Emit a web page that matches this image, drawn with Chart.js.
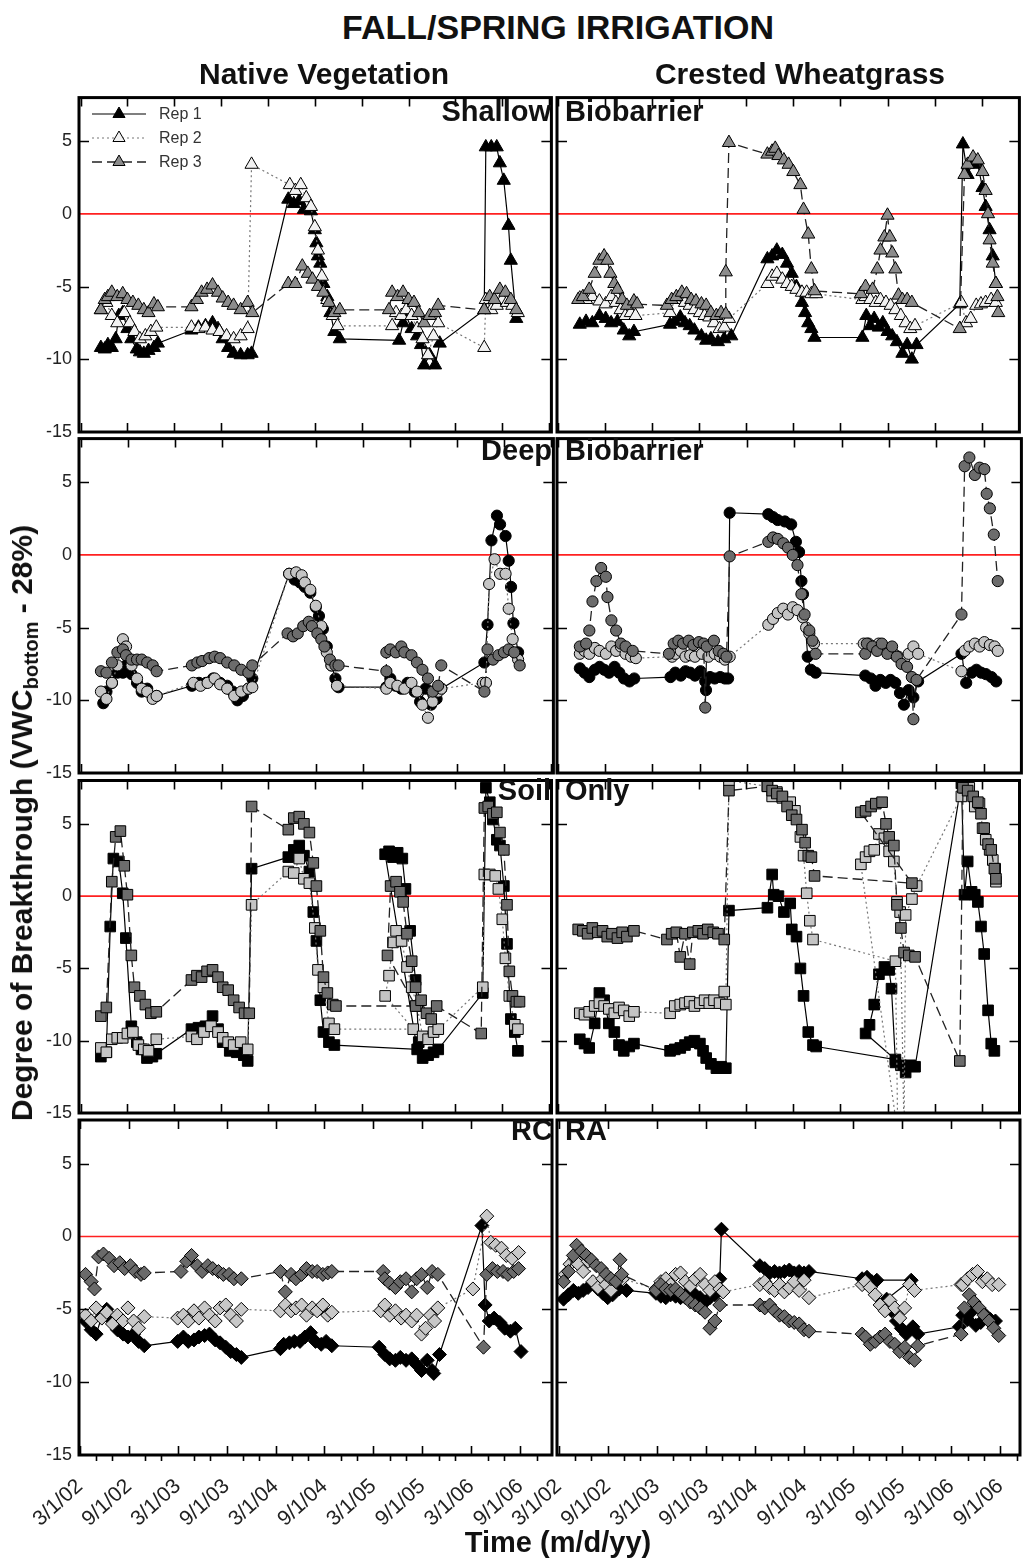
<!DOCTYPE html>
<html><head><meta charset="utf-8">
<script src="https://cdn.jsdelivr.net/npm/chart.js@4.4.1/dist/chart.umd.min.js"></script>
<style>
html,body{margin:0;padding:0;background:#fff;}
#wrap{position:relative;width:1028px;height:1562px;overflow:hidden;font-family:'Liberation Sans',Arial,sans-serif;background:#fff;}
canvas{position:absolute;}
.t{position:absolute;font-weight:bold;color:#111;white-space:nowrap;line-height:1;z-index:5;}
</style></head><body>
<div id="wrap">
  <div class="t" style="left:558px;top:10px;font-size:34px;transform:translateX(-50%);">FALL/SPRING IRRIGATION</div>
  <div class="t" style="left:324px;top:59px;font-size:30px;transform:translateX(-50%);">Native Vegetation</div>
  <div class="t" style="left:800px;top:59px;font-size:30px;transform:translateX(-50%);">Crested Wheatgrass</div>
  <div class="t" style="right:477px;top:97px;font-size:29px;">Shallow</div>
  <div class="t" style="left:565px;top:97px;font-size:29px;">Biobarrier</div>
  <div class="t" style="right:476px;top:436px;font-size:29px;">Deep</div>
  <div class="t" style="left:565px;top:436px;font-size:29px;">Biobarrier</div>
  <div class="t" style="right:477px;top:776px;font-size:29px;">Soil</div>
  <div class="t" style="left:565px;top:776px;font-size:29px;">Only</div>
  <div class="t" style="right:475px;top:1116px;font-size:29px;">RC</div>
  <div class="t" style="left:565px;top:1116px;font-size:29px;">RA</div>
  <div class="t" style="left:24px;top:823px;font-size:30px;transform:translate(-50%,-50%) rotate(-90deg);">Degree of Breakthrough (VWC<sub style="font-size:20px;vertical-align:-6px;">bottom</sub> - 28%)</div>
  <div class="t" style="left:558px;top:1528px;font-size:29px;transform:translateX(-50%);">Time (m/d/yy)</div>
</div>
<script>
// ---------- tick labels ----------
const tickMonths = [0, 6, 12, 18, 24, 30, 36, 42, 48, 54];
const xTickLabels = ['3/1/02','9/1/02','3/1/03','9/1/03','3/1/04','9/1/04','3/1/05','9/1/05','3/1/06','9/1/06'];
const yTickValues = [-15, -10, -5, 0, 5];
const repNames = ['Rep 1', 'Rep 2', 'Rep 3'];
const panelTitles = ['Shallow Biobarrier', 'Deep Biobarrier', 'Soil Only', 'RCRA'];

// ---------- data: [months since 3/1/02, VWC_bottom - 28%] ----------
// Shallow Biobarrier - Native Vegetation
const sbNV1 = [[2.6,-9.2],[3.1,-9.3],[3.5,-9.0],[4.0,-9.2],[4.5,-8.6],[4.9,-7.0],[5.4,-6.8],[6.0,-7.9],[6.5,-8.6],[7.2,-9.3],[7.6,-9.5],[8.1,-9.6],[8.7,-9.4],[9.4,-9.2],[9.9,-8.9],[14.2,-8.0],[15.1,-7.8],[16.0,-7.7],[16.9,-7.5],[17.6,-7.9],[18.2,-8.6],[18.9,-9.2],[19.6,-9.6],[20.5,-9.7],[21.4,-9.7],[21.9,-9.6],[26.6,1.0],[27.3,0.7],[28.0,0.9],[28.6,0.3],[29.5,0.2],[30.0,-1.1],[30.2,-2.0],[30.4,-2.9],[30.7,-3.4],[31.1,-4.8],[31.6,-5.7],[32.0,-6.8],[32.5,-8.1],[33.2,-8.6],[40.8,-8.7],[41.3,-7.5],[41.7,-7.0],[42.4,-7.9],[43.1,-8.4],[43.6,-9.0],[44.0,-10.4],[44.7,-9.7],[45.4,-10.4],[46.0,-8.9],[51.7,-6.6],[51.9,4.6],[52.6,4.6],[53.3,4.6],[53.7,3.5],[54.2,2.3],[54.8,-0.8],[55.1,-3.2],[55.8,-7.2]];
const sbNV2 = [[2.6,-6.6],[3.3,-6.1],[4.0,-7.0],[4.7,-7.5],[5.6,-6.8],[6.3,-7.5],[6.9,-8.1],[7.6,-8.6],[8.3,-8.4],[9.0,-8.1],[9.7,-7.8],[14.2,-7.8],[15.1,-7.9],[16.0,-7.8],[16.9,-8.0],[17.8,-8.1],[18.7,-8.4],[19.6,-8.6],[20.5,-8.4],[21.4,-7.9],[21.9,3.4],[26.8,2.0],[27.5,1.6],[28.2,2.0],[28.9,1.1],[29.5,0.5],[30.0,-0.9],[30.4,-2.5],[30.9,-4.3],[31.6,-5.9],[32.3,-7.0],[32.9,-7.7],[39.9,-7.7],[40.4,-6.8],[41.1,-7.0],[41.7,-6.6],[42.4,-7.0],[43.1,-7.9],[43.8,-8.6],[44.5,-9.7],[45.2,-8.4],[45.8,-7.5],[51.7,-9.2],[51.9,-5.9],[52.6,-6.6],[53.3,-6.3],[54.0,-5.9],[54.6,-6.1],[55.3,-6.3],[56.0,-6.8]];
const sbNV3 = [[2.6,-6.6],[3.1,-5.9],[3.5,-5.7],[4.0,-5.4],[4.7,-5.7],[5.4,-5.5],[6.0,-5.9],[6.7,-6.1],[7.4,-6.3],[8.1,-6.6],[8.7,-6.8],[9.4,-6.2],[9.9,-6.4],[14.2,-6.4],[14.9,-5.9],[15.5,-5.4],[16.2,-5.2],[16.9,-4.9],[17.6,-5.4],[18.2,-5.8],[18.9,-6.1],[19.6,-6.3],[20.5,-6.6],[21.4,-6.1],[22.0,-6.8],[26.6,-4.8],[27.5,-4.8],[28.4,-3.6],[29.1,-4.1],[29.7,-4.5],[30.4,-5.0],[31.1,-5.4],[31.8,-6.1],[32.5,-6.8],[33.2,-6.6],[39.5,-6.6],[39.9,-5.4],[40.6,-5.7],[41.3,-5.4],[42.0,-5.9],[42.7,-6.1],[43.3,-6.8],[44.0,-7.5],[44.7,-7.0],[45.4,-6.8],[45.8,-6.3],[51.7,-6.6],[52.4,-5.7],[53.0,-5.9],[53.7,-5.2],[54.4,-5.4],[55.1,-5.9],[55.8,-6.6]];
// Shallow Biobarrier - Crested Wheatgrass
const sbCW1 = [[2.8,-7.6],[3.6,-7.4],[4.4,-7.5],[5.3,-7.0],[6.1,-7.2],[6.8,-7.5],[7.6,-7.4],[8.4,-8.0],[9.1,-8.4],[9.7,-8.1],[14.3,-7.6],[14.9,-7.4],[15.6,-7.1],[16.2,-7.5],[16.8,-7.7],[17.4,-8.0],[18.3,-8.4],[18.9,-8.7],[19.5,-8.6],[20.4,-8.8],[21.2,-8.6],[22.1,-8.4],[26.7,-3.1],[27.3,-2.9],[27.9,-2.5],[28.6,-2.8],[29.2,-3.4],[29.8,-4.1],[30.4,-5.0],[31.1,-6.1],[31.5,-6.8],[31.9,-7.5],[32.3,-7.9],[32.7,-8.5],[38.8,-8.5],[39.3,-7.0],[39.8,-7.7],[40.3,-7.2],[40.9,-7.8],[41.4,-7.5],[42.0,-8.1],[42.6,-8.4],[43.2,-8.8],[43.9,-9.6],[44.5,-9.0],[45.1,-10.0],[45.7,-9.0],[51.2,-6.2],[51.6,4.8],[52.2,2.7],[52.9,3.6],[53.5,3.4],[54.1,1.8],[54.5,0.5],[55.0,-1.1],[55.4,-2.9],[55.8,-4.8]];
const sbCW2 = [[2.8,-5.8],[3.6,-5.9],[4.4,-5.7],[5.3,-6.0],[6.1,-6.2],[6.8,-5.7],[7.4,-6.1],[8.0,-6.6],[8.6,-7.0],[9.3,-6.8],[9.9,-7.0],[14.3,-6.8],[14.9,-5.9],[15.6,-5.7],[16.2,-6.1],[16.8,-6.3],[17.4,-6.6],[18.1,-6.8],[18.7,-7.0],[19.3,-7.1],[19.9,-7.5],[20.6,-7.9],[21.2,-7.8],[21.8,-7.2],[26.7,-4.8],[27.3,-4.3],[27.9,-4.1],[28.6,-4.5],[29.2,-4.8],[29.8,-5.0],[30.4,-5.2],[31.1,-5.4],[31.7,-5.4],[32.3,-5.5],[32.9,-5.5],[38.8,-5.9],[39.2,-5.7],[39.8,-5.9],[40.5,-6.1],[41.1,-5.9],[41.8,-6.1],[42.4,-6.3],[43.0,-6.6],[43.7,-7.0],[44.3,-7.5],[44.9,-7.9],[45.5,-7.7],[51.4,-6.1],[52.0,-7.5],[52.6,-7.2],[53.3,-6.3],[53.9,-6.2],[54.5,-6.1],[55.2,-5.9],[55.8,-6.1]];
const sbCW3 = [[2.6,-5.9],[3.2,-5.7],[4.0,-5.2],[4.7,-4.1],[5.3,-3.2],[5.9,-2.9],[6.3,-3.2],[6.7,-4.1],[7.2,-4.8],[7.6,-5.2],[8.2,-5.9],[8.8,-6.3],[9.7,-6.0],[10.1,-6.2],[13.9,-6.3],[14.5,-5.9],[15.1,-5.7],[15.8,-5.4],[16.4,-5.5],[17.0,-5.9],[17.6,-6.0],[18.3,-6.2],[18.9,-6.3],[19.5,-6.8],[20.2,-7.0],[20.8,-6.8],[21.4,-6.9],[21.4,-4.0],[21.8,4.9],[26.7,4.1],[27.3,4.3],[27.7,4.5],[28.1,4.0],[28.8,3.7],[29.4,3.4],[30.0,2.9],[30.9,2.0],[31.3,0.3],[31.9,-1.4],[32.3,-3.8],[32.7,-5.3],[38.6,-5.5],[39.2,-5.0],[40.1,-5.2],[40.7,-3.8],[41.1,-2.5],[41.6,-1.6],[42.0,-0.1],[42.3,-1.6],[42.6,-2.7],[43.0,-3.8],[43.4,-5.6],[43.9,-5.9],[44.5,-5.9],[45.1,-6.1],[51.2,-7.9],[51.8,2.7],[52.2,3.4],[52.9,3.9],[53.5,3.7],[54.1,2.9],[54.5,1.6],[54.8,0.0],[55.0,-1.8],[55.4,-3.4],[55.8,-4.8],[56.0,-5.7],[56.1,-6.8]];
// Deep Biobarrier - Native Vegetation
const dbNV1 = [[2.9,-10.2],[3.3,-9.4],[4.0,-8.8],[4.7,-8.1],[5.4,-8.1],[5.8,-7.6],[6.5,-8.2],[7.2,-8.8],[7.8,-9.4],[8.5,-9.2],[9.2,-9.8],[9.7,-9.7],[14.2,-9.0],[15.1,-8.8],[16.0,-8.8],[16.9,-8.5],[17.8,-8.8],[18.7,-9.0],[19.4,-9.4],[20.0,-10.0],[20.7,-9.7],[21.4,-9.2],[21.9,-8.5],[26.6,-1.3],[27.3,-1.7],[28.0,-1.9],[28.6,-2.2],[29.3,-2.6],[30.0,-3.6],[30.4,-4.2],[30.9,-5.1],[31.4,-6.3],[32.0,-7.6],[32.5,-8.5],[32.9,-9.1],[39.0,-9.1],[39.5,-8.5],[40.2,-9.0],[40.9,-9.2],[41.7,-8.8],[42.6,-9.4],[43.3,-10.1],[44.0,-9.2],[44.7,-10.3],[45.4,-9.9],[46.0,-9.2],[51.5,-7.4],[51.9,-4.8],[52.4,1.0],[53.1,2.7],[53.5,2.1],[54.2,1.3],[54.6,-0.4],[54.9,-2.2],[55.2,-4.7],[55.8,-6.7]];
const dbNV2 = [[2.6,-9.4],[3.3,-9.9],[4.0,-8.8],[4.7,-7.6],[5.4,-5.8],[5.8,-6.3],[6.5,-7.6],[7.2,-8.5],[7.8,-9.2],[8.5,-9.4],[9.2,-9.9],[9.7,-9.7],[14.4,-8.8],[15.3,-9.0],[16.2,-8.8],[17.1,-8.5],[17.8,-8.9],[18.7,-9.2],[19.6,-9.7],[20.5,-9.4],[21.4,-9.2],[21.9,-9.1],[26.6,-1.3],[27.5,-1.2],[28.2,-1.4],[28.6,-1.9],[29.3,-2.4],[30.0,-3.5],[30.7,-4.9],[31.4,-6.7],[32.0,-7.6],[32.7,-9.0],[39.0,-9.2],[39.5,-8.8],[40.4,-9.0],[41.3,-9.2],[42.2,-8.8],[42.9,-9.4],[43.6,-10.3],[44.3,-11.2],[44.9,-10.1],[45.6,-9.4],[46.0,-9.2],[51.3,-8.8],[51.7,-8.8],[52.1,-2.0],[52.8,-0.3],[53.5,-1.3],[54.2,-1.3],[54.6,-3.7],[55.1,-5.8],[55.8,-7.2]];
const dbNV3 = [[2.6,-8.0],[3.3,-8.1],[4.0,-7.4],[4.7,-6.7],[5.4,-6.5],[5.8,-6.9],[6.5,-7.2],[7.2,-7.2],[7.8,-7.2],[8.5,-7.4],[9.2,-7.6],[9.7,-8.0],[14.2,-7.6],[14.9,-7.4],[15.5,-7.3],[16.4,-7.1],[17.1,-7.0],[17.8,-7.1],[18.7,-7.4],[19.6,-7.6],[20.5,-7.9],[21.4,-8.1],[21.9,-7.6],[26.4,-5.4],[27.1,-5.6],[27.7,-5.4],[28.4,-4.9],[29.1,-4.6],[29.5,-4.9],[30.2,-5.4],[30.7,-5.8],[31.1,-6.3],[31.8,-7.2],[32.5,-7.6],[32.9,-7.6],[39.0,-8.0],[39.0,-6.7],[39.5,-6.5],[40.2,-6.7],[40.9,-6.3],[41.3,-6.7],[42.2,-6.9],[42.9,-7.4],[43.6,-7.9],[44.3,-8.5],[44.9,-9.4],[45.6,-9.0],[46.0,-7.6],[51.5,-9.4],[51.9,-6.5],[52.6,-7.2],[53.3,-6.9],[54.0,-6.7],[54.6,-6.5],[55.3,-6.7],[56.0,-7.6]];
// Deep Biobarrier - Crested Wheatgrass
const dbCW1 = [[2.8,-7.8],[3.4,-8.1],[4.0,-8.4],[4.7,-7.9],[5.3,-7.7],[5.9,-7.9],[6.5,-8.1],[7.2,-7.7],[7.8,-8.1],[8.4,-8.5],[9.1,-8.7],[9.7,-8.5],[14.3,-8.4],[14.9,-8.1],[15.6,-8.3],[16.2,-8.0],[16.8,-8.1],[17.4,-8.3],[18.1,-8.0],[18.7,-8.7],[18.8,-9.3],[19.3,-8.4],[19.9,-8.5],[20.6,-8.4],[21.2,-8.5],[21.6,-8.5],[21.8,2.9],[26.7,2.8],[27.3,2.6],[27.9,2.4],[28.8,2.3],[29.6,2.1],[30.2,0.9],[30.6,0.2],[30.9,-1.8],[31.1,-2.7],[31.7,-7.0],[32.1,-7.9],[32.7,-8.1],[39.0,-8.3],[39.7,-8.5],[40.3,-9.0],[40.9,-8.6],[41.6,-8.8],[42.2,-8.6],[42.8,-8.8],[43.4,-9.5],[43.9,-10.3],[44.5,-9.3],[45.1,-9.8],[45.7,-8.7],[51.2,-6.8],[51.8,-8.8],[52.5,-8.1],[53.1,-7.9],[53.7,-8.1],[54.3,-8.2],[55.0,-8.4],[55.6,-8.7]];
const dbCW2 = [[2.8,-6.8],[3.4,-6.6],[4.0,-6.8],[4.7,-6.4],[5.3,-6.6],[6.1,-6.8],[6.8,-6.3],[7.4,-6.6],[8.0,-6.3],[8.6,-6.8],[9.3,-7.0],[9.9,-7.1],[14.5,-7.0],[14.9,-6.8],[15.6,-6.6],[16.2,-7.0],[16.8,-6.9],[17.4,-7.0],[18.3,-6.8],[19.1,-7.0],[19.9,-6.8],[20.6,-7.0],[21.2,-7.2],[21.8,-7.0],[26.7,-4.8],[27.3,-4.4],[27.9,-4.0],[28.6,-3.7],[29.2,-4.1],[29.8,-3.6],[30.4,-3.8],[31.1,-4.3],[31.5,-5.0],[31.9,-5.4],[32.5,-6.1],[38.8,-6.1],[39.4,-6.1],[40.1,-6.3],[40.7,-6.1],[41.3,-6.3],[41.9,-6.6],[42.6,-6.8],[43.2,-7.0],[43.9,-7.2],[44.5,-6.8],[45.1,-6.3],[45.7,-6.8],[51.2,-8.0],[51.6,-6.6],[52.2,-6.3],[52.9,-6.1],[53.5,-6.3],[54.1,-6.0],[54.8,-6.2],[55.4,-6.3],[55.8,-6.6]];
const dbCW3 = [[2.8,-6.3],[3.6,-6.1],[4.0,-5.2],[4.4,-3.2],[4.9,-1.8],[5.5,-0.9],[6.1,-1.5],[6.3,-2.9],[6.8,-4.5],[7.4,-5.2],[8.0,-6.1],[8.6,-6.3],[9.5,-6.6],[14.1,-6.8],[14.7,-6.1],[15.3,-5.9],[15.9,-6.1],[16.6,-5.9],[17.2,-6.2],[17.9,-6.0],[18.5,-6.1],[18.7,-10.5],[18.9,-6.3],[19.8,-5.9],[20.4,-6.6],[21.0,-6.8],[21.4,-7.0],[21.8,-0.1],[26.7,0.9],[27.3,1.2],[27.9,1.1],[28.6,0.8],[29.2,0.5],[29.8,0.0],[30.4,-0.7],[30.9,-2.7],[31.3,-4.1],[31.9,-5.2],[32.3,-5.9],[32.7,-6.8],[39.0,-6.8],[39.2,-6.1],[39.9,-6.3],[40.5,-6.6],[41.1,-6.1],[41.8,-6.8],[42.4,-6.3],[43.0,-7.0],[43.6,-7.5],[44.3,-7.7],[44.9,-8.4],[45.1,-11.3],[45.5,-8.6],[51.2,-4.1],[51.6,6.1],[52.2,6.7],[52.9,5.5],[53.5,6.0],[54.1,5.9],[54.4,4.2],[54.8,3.2],[55.3,1.4],[55.8,-1.8]];
// Soil Only - Native Vegetation
const soNV1 = [[2.6,-11.1],[3.3,-10.8],[3.8,-2.1],[4.2,2.6],[4.9,2.4],[5.4,0.2],[5.8,-2.9],[6.5,-9.0],[7.2,-10.1],[7.8,-10.6],[8.5,-11.2],[9.2,-11.1],[9.7,-10.9],[14.2,-9.2],[15.1,-9.1],[16.0,-9.0],[16.9,-8.3],[17.6,-9.2],[18.2,-10.1],[19.1,-10.7],[20.0,-10.8],[20.9,-11.0],[21.4,-11.4],[21.9,1.9],[26.6,2.7],[27.3,3.2],[28.0,3.5],[28.6,2.8],[29.3,1.7],[29.8,-1.1],[30.2,-3.1],[30.7,-7.2],[31.1,-9.4],[31.8,-10.1],[32.5,-10.3],[43.1,-10.6],[39.0,2.9],[39.5,3.1],[40.0,2.7],[40.6,3.0],[41.2,2.6],[41.6,0.5],[42.2,-2.4],[42.9,-5.8],[43.3,-10.1],[43.8,-11.2],[44.5,-11.0],[45.2,-10.8],[45.8,-10.6],[51.5,-6.7],[51.9,7.5],[52.4,6.5],[52.8,5.3],[53.3,3.9],[53.7,3.5],[54.2,0.7],[54.6,-3.3],[55.1,-8.5],[55.6,-9.4],[56.0,-10.7]];
const soNV2 = [[2.6,-10.5],[3.3,-10.8],[4.0,-9.9],[4.7,-9.8],[5.4,-9.8],[6.0,-9.5],[6.7,-9.4],[7.4,-10.3],[8.1,-10.6],[8.7,-10.7],[9.7,-9.9],[14.2,-9.7],[14.9,-9.9],[15.8,-9.4],[16.7,-9.0],[17.6,-9.4],[18.2,-9.8],[18.9,-10.1],[19.6,-10.3],[20.5,-10.1],[21.4,-10.6],[21.9,-0.6],[26.6,1.7],[27.3,1.6],[28.0,2.6],[28.6,1.2],[29.3,0.9],[30.0,-2.2],[30.4,-5.1],[31.1,-6.3],[31.8,-8.8],[32.5,-9.2],[42.6,-9.2],[39.0,-6.9],[39.5,-5.5],[40.0,-3.2],[40.4,-2.4],[41.1,-3.1],[41.8,-4.9],[42.4,-6.3],[43.1,-7.6],[43.8,-9.7],[44.5,-9.9],[45.2,-9.4],[45.8,-9.2],[51.5,-6.3],[51.7,1.5],[52.4,1.5],[53.1,1.4],[53.5,0.5],[54.0,-1.6],[54.4,-4.3],[54.9,-6.9],[55.6,-8.9],[56.0,-9.2]];
const soNV3 = [[2.6,-8.3],[3.3,-7.7],[4.0,1.0],[4.5,4.1],[5.1,4.5],[5.6,2.1],[6.0,0.1],[6.5,-4.1],[6.9,-6.3],[7.6,-6.9],[8.3,-7.5],[9.0,-8.1],[9.7,-8.0],[14.2,-5.8],[14.9,-5.5],[15.5,-5.6],[16.2,-5.2],[16.9,-5.1],[17.6,-5.6],[18.2,-6.3],[18.9,-6.5],[19.6,-7.2],[20.3,-7.7],[21.0,-8.1],[21.6,-8.1],[21.9,6.2],[26.6,4.6],[27.3,5.4],[28.0,5.5],[28.6,5.0],[29.3,4.4],[29.8,2.3],[30.2,0.7],[30.7,-2.4],[31.1,-5.6],[31.6,-6.7],[32.3,-7.5],[32.7,-7.6],[42.9,-7.6],[39.3,-4.1],[39.7,0.7],[40.4,1.0],[40.9,0.3],[41.3,-0.4],[41.8,-2.6],[42.4,-4.5],[42.9,-6.3],[43.6,-7.2],[44.3,-8.1],[44.9,-8.5],[45.6,-7.6],[51.3,-9.5],[51.7,6.1],[52.2,6.2],[52.8,5.7],[53.3,5.8],[53.7,4.4],[54.2,3.2],[54.6,-0.6],[54.9,-5.2],[55.3,-6.9],[55.8,-7.3],[56.2,-7.3]];
// Soil Only - Crested Wheatgrass
const soCW1 = [[2.8,-9.9],[3.4,-10.2],[4.0,-10.5],[4.7,-8.8],[5.3,-6.7],[5.9,-7.2],[6.5,-8.8],[7.2,-9.4],[7.8,-10.3],[8.4,-10.7],[9.1,-10.4],[9.7,-10.2],[14.3,-10.7],[14.9,-10.6],[15.6,-10.5],[16.2,-10.3],[16.8,-10.1],[17.4,-10.0],[18.1,-10.2],[18.5,-10.7],[18.9,-11.2],[19.5,-11.6],[20.2,-11.9],[20.8,-11.8],[21.4,-11.9],[21.8,-1.0],[26.7,-0.8],[27.3,1.5],[27.5,0.1],[28.1,0.0],[28.8,-1.1],[29.6,-0.5],[29.8,-2.3],[30.4,-2.8],[30.9,-5.0],[31.3,-6.9],[31.9,-9.4],[32.5,-10.3],[32.9,-10.4],[43.0,-11.3],[39.2,-9.5],[39.7,-8.9],[40.3,-7.5],[40.9,-5.4],[41.6,-4.9],[42.2,-5.1],[42.5,-6.4],[43.0,-11.5],[43.7,-11.7],[44.3,-12.2],[44.9,-11.7],[45.5,-11.8],[51.4,7.8],[51.8,0.1],[52.2,2.4],[52.7,0.3],[53.1,0.1],[53.5,-0.4],[53.9,-2.1],[54.3,-4.0],[54.8,-7.9],[55.2,-10.2],[55.6,-10.7]];
const soCW2 = [[2.8,-8.1],[3.4,-8.2],[4.0,-8.0],[4.7,-7.6],[5.3,-7.4],[5.9,-7.6],[6.5,-7.8],[7.2,-8.1],[7.8,-7.7],[8.4,-7.9],[9.1,-8.3],[9.7,-8.0],[14.3,-8.1],[14.9,-7.6],[15.6,-7.5],[16.2,-7.4],[16.8,-7.3],[17.4,-7.6],[18.1,-7.4],[18.7,-7.2],[19.3,-7.4],[19.9,-7.2],[20.6,-7.4],[21.2,-6.6],[21.4,-7.5],[21.8,8.0],[26.7,7.6],[27.3,6.9],[27.9,7.2],[28.6,6.8],[29.6,6.5],[30.2,5.9],[30.9,4.1],[31.3,2.8],[31.7,0.2],[32.1,-1.7],[32.5,-3.0],[43.0,-4.5],[43.3,-16.5],[38.6,2.2],[39.2,2.7],[39.7,3.1],[40.3,3.2],[40.9,4.3],[41.6,4.0],[42.2,3.1],[42.8,2.4],[43.2,-0.4],[43.6,-1.1],[44.1,-16.5],[44.3,-1.3],[45.1,-0.2],[45.7,0.7],[51.4,6.9],[51.8,7.5],[52.4,7.5],[53.1,6.2],[53.7,6.4],[54.1,4.7],[54.5,3.9],[55.0,3.2],[55.4,2.5],[55.7,1.9],[55.8,1.0]];
const soCW3 = [[2.6,-2.3],[3.2,-2.4],[3.8,-2.6],[4.4,-2.2],[5.1,-2.5],[5.7,-2.4],[6.3,-2.8],[6.9,-2.6],[7.6,-2.9],[8.2,-2.5],[8.8,-2.8],[9.7,-2.4],[13.9,-3.0],[14.5,-2.6],[15.1,-2.5],[15.6,-4.2],[16.2,-2.6],[16.8,-4.7],[17.2,-2.5],[17.9,-2.4],[18.5,-2.6],[19.1,-2.3],[19.8,-2.5],[20.4,-2.6],[21.2,-3.0],[21.8,7.3],[26.7,7.6],[27.3,7.3],[27.9,7.1],[28.6,6.9],[29.2,6.2],[29.8,5.6],[30.4,5.3],[31.1,4.6],[31.5,3.7],[31.9,2.8],[32.3,2.7],[32.7,1.4],[45.1,0.9],[38.6,5.8],[39.2,5.9],[39.9,6.2],[40.5,6.4],[41.3,6.5],[41.8,5.0],[42.2,4.1],[42.8,3.5],[43.2,-0.6],[43.7,-2.2],[44.1,-3.9],[44.7,-4.1],[45.5,-4.2],[51.2,-11.4],[51.6,7.5],[52.2,7.3],[52.9,6.9],[53.5,6.5],[53.9,5.7],[54.3,4.7],[54.8,3.6],[55.2,3.2],[55.6,1.9],[55.8,1.2]];
// RCRA - Native Vegetation
const rcNV1 = [[0.7,-5.8],[1.4,-6.4],[2.0,-6.7],[2.7,-5.5],[3.3,-5.0],[4.0,-5.8],[4.6,-6.4],[5.3,-6.7],[5.9,-6.9],[6.6,-6.7],[7.2,-7.2],[7.9,-7.5],[12.0,-7.2],[12.7,-6.9],[13.3,-7.2],[14.0,-7.1],[14.6,-6.9],[15.3,-6.8],[15.9,-6.7],[16.6,-7.1],[17.2,-7.3],[17.9,-7.6],[18.5,-7.9],[19.2,-8.1],[19.8,-8.3],[24.6,-7.7],[25.0,-7.4],[25.7,-7.3],[26.3,-7.2],[27.0,-7.2],[27.6,-6.9],[28.3,-6.6],[28.9,-7.2],[29.6,-7.4],[30.2,-7.2],[30.9,-7.5],[36.7,-7.6],[37.4,-8.1],[38.0,-8.4],[38.7,-8.5],[39.3,-8.3],[40.0,-8.5],[40.7,-8.4],[41.3,-8.8],[41.9,-9.2],[42.6,-8.5],[43.2,-9.2],[43.4,-9.4],[44.1,-8.1],[49.3,0.75],[49.7,-4.7],[50.2,-5.8],[50.8,-5.6],[51.5,-5.9],[52.1,-6.3],[52.8,-6.5],[53.4,-6.3],[54.1,-7.9]];
const rcNV2 = [[0.7,-5.4],[1.4,-5.8],[2.0,-4.9],[2.7,-5.6],[3.3,-5.2],[4.0,-6.0],[4.6,-5.4],[5.3,-5.8],[5.9,-4.9],[6.6,-5.8],[7.2,-6.3],[7.9,-5.5],[12.0,-5.6],[12.7,-5.4],[13.3,-5.8],[14.0,-5.1],[14.6,-5.6],[15.3,-4.9],[15.9,-5.4],[16.6,-5.8],[17.2,-4.9],[17.9,-4.7],[18.5,-5.4],[19.2,-5.8],[19.8,-5.0],[24.6,-5.1],[25.2,-4.7],[25.9,-5.1],[26.5,-4.9],[27.2,-4.7],[27.8,-5.4],[28.5,-4.9],[29.1,-5.1],[29.8,-4.7],[30.4,-5.4],[30.9,-5.2],[36.9,-5.1],[37.4,-4.7],[38.0,-5.4],[38.7,-5.1],[39.4,-5.6],[40.0,-5.4],[40.7,-5.8],[41.3,-5.4],[41.9,-6.7],[42.4,-6.3],[43.0,-5.4],[43.5,-5.8],[43.9,-4.9],[48.2,-3.6],[49.9,1.4],[50.4,-0.4],[51.0,-0.6],[51.7,-0.8],[52.3,-1.3],[53.0,-1.5],[53.8,-1.1]];
const rcNV3 = [[0.7,-2.6],[1.4,-3.1],[1.8,-3.6],[2.3,-1.4],[2.9,-1.2],[3.6,-1.5],[4.2,-2.0],[4.9,-1.8],[5.5,-2.2],[6.2,-2.0],[6.8,-2.4],[7.5,-2.6],[7.9,-2.5],[12.4,-2.4],[13.1,-1.7],[13.7,-1.3],[14.4,-2.0],[15.0,-2.4],[15.7,-2.0],[16.3,-2.2],[17.0,-2.4],[17.6,-2.6],[18.3,-2.6],[18.9,-2.9],[19.8,-2.9],[24.6,-2.4],[25.2,-3.8],[25.9,-2.6],[26.5,-2.9],[27.2,-2.6],[27.8,-2.2],[28.5,-2.4],[29.1,-2.4],[29.8,-2.6],[30.4,-2.5],[30.9,-2.4],[37.2,-2.4],[37.4,-2.9],[38.0,-3.2],[38.7,-3.5],[39.3,-3.1],[40.0,-2.9],[40.7,-3.8],[41.3,-2.9],[41.9,-2.6],[42.6,-3.5],[43.2,-2.4],[43.9,-2.6],[49.5,-7.6],[49.9,-2.6],[50.6,-2.2],[51.2,-2.4],[51.9,-2.4],[52.5,-2.6],[53.2,-2.4],[53.8,-2.2]];
// RCRA - Crested Wheatgrass
const rcCW1 = [[0.6,-4.3],[1.2,-4.0],[1.8,-3.7],[2.4,-3.9],[3.0,-3.7],[3.6,-3.5],[4.2,-3.2],[4.8,-3.6],[5.4,-3.9],[6.0,-4.2],[6.6,-4.0],[7.4,-3.6],[8.3,-3.7],[11.9,-3.9],[12.5,-4.1],[13.1,-4.2],[13.7,-4.0],[14.3,-4.1],[14.9,-4.2],[15.5,-4.0],[16.1,-3.8],[16.7,-4.0],[17.3,-4.2],[17.9,-4.5],[18.5,-4.2],[19.1,-4.0],[19.7,-2.9],[19.9,0.5],[24.6,-2.0],[25.2,-2.2],[25.8,-2.5],[26.4,-2.4],[27.0,-2.5],[27.6,-2.4],[28.2,-2.3],[28.8,-2.5],[29.4,-2.4],[30.0,-2.5],[30.6,-2.4],[37.1,-2.9],[37.7,-2.8],[38.3,-3.1],[38.9,-3.0],[43.1,-3.0],[40.1,-4.3],[40.7,-5.1],[41.3,-5.8],[41.9,-6.3],[42.5,-6.7],[43.3,-6.2],[43.9,-6.7],[49.0,-6.2],[49.4,-5.4],[50.0,-5.7],[50.4,-5.2],[51.0,-6.1],[51.6,-5.9],[52.2,-5.4],[52.8,-5.7],[53.4,-5.8]];
const rcCW2 = [[0.8,-2.6],[1.4,-1.9],[2.0,-1.5],[2.4,-1.9],[3.0,-2.4],[3.6,-1.7],[4.2,-3.1],[4.8,-3.5],[5.4,-2.9],[5.8,-3.3],[6.4,-3.7],[7.0,-3.1],[7.8,-2.9],[11.9,-3.6],[12.5,-3.1],[13.1,-2.9],[13.7,-3.3],[14.3,-2.6],[14.9,-2.5],[15.5,-3.1],[16.1,-3.4],[16.7,-2.9],[17.3,-2.6],[17.9,-3.3],[18.5,-3.7],[19.1,-3.1],[19.7,-3.6],[20.1,-3.8],[24.6,-3.3],[25.2,-3.1],[25.8,-3.5],[26.4,-3.7],[27.0,-3.3],[27.6,-3.8],[28.2,-3.5],[28.8,-3.1],[29.4,-3.7],[30.0,-3.0],[30.6,-4.2],[37.1,-3.3],[37.5,-3.1],[38.1,-3.5],[38.7,-4.0],[39.3,-4.7],[39.9,-5.1],[40.5,-4.4],[41.1,-4.9],[41.7,-5.6],[42.3,-4.9],[42.9,-3.3],[43.5,-3.7],[49.2,-3.3],[49.4,-3.3],[50.0,-2.9],[50.6,-2.6],[51.2,-2.4],[51.8,-3.1],[52.4,-2.9],[53.0,-3.3],[53.8,-3.3]];
const rcCW3 = [[0.6,-3.1],[1.2,-2.4],[1.8,-1.3],[2.2,-0.6],[2.8,-1.0],[3.4,-1.3],[4.0,-1.6],[4.6,-2.0],[5.2,-2.2],[5.8,-2.6],[6.4,-2.9],[7.0,-3.1],[7.5,-1.6],[7.7,-2.6],[11.9,-3.7],[12.5,-3.3],[13.1,-3.6],[13.7,-3.7],[14.3,-3.6],[14.9,-3.9],[15.5,-4.2],[16.1,-4.5],[16.7,-4.7],[17.3,-4.9],[17.9,-5.2],[18.5,-6.3],[19.1,-5.8],[19.7,-4.7],[24.6,-4.7],[25.2,-4.9],[25.8,-4.7],[26.4,-5.1],[27.0,-5.4],[27.6,-5.5],[28.2,-5.8],[28.8,-5.9],[29.4,-6.0],[30.0,-6.4],[30.6,-6.5],[37.1,-6.7],[37.5,-6.9],[38.1,-7.4],[38.7,-7.2],[39.3,-6.9],[39.9,-6.7],[40.5,-7.2],[41.1,-7.4],[41.7,-7.9],[42.3,-7.6],[42.9,-8.3],[43.5,-8.5],[43.9,-7.5],[49.2,-6.7],[49.6,-4.9],[50.2,-4.0],[50.8,-4.5],[51.4,-4.9],[52.0,-5.4],[52.6,-5.8],[53.2,-6.3],[53.8,-6.8]];

// ---------- layout ----------
const colL = [79, 557], colR = [557, 1025];
const rowT = [93, 436, 776, 1116], rowB = [432, 773, 1113, 1455];
const xRange = { upper: [[-0.2, 60.3], [-0.1, 58.8]], lower: [[-0.1, 57.9], [-0.2, 56.4]] };
const markerStyle = ['triangle', 'circle', 'rect', 'rectRot'];
const markerRadius = [7.6, 5.6, 7.5, 7];
const fillRep2 = ['#f2f2f2', '#c4c4c4', '#c4c4c4', '#c8c8c8'];
const fillRep3 = ['#8c8c8c', '#6c6c6c', '#6c6c6c', '#6a6a6a'];

const panels = [
  {row:0, col:0, reps:[sbNV1, sbNV2, sbNV3]}, {row:0, col:1, reps:[sbCW1, sbCW2, sbCW3]},
  {row:1, col:0, reps:[dbNV1, dbNV2, dbNV3]}, {row:1, col:1, reps:[dbCW1, dbCW2, dbCW3]},
  {row:2, col:0, reps:[soNV1, soNV2, soNV3]}, {row:2, col:1, reps:[soCW1, soCW2, soCW3]},
  {row:3, col:0, reps:[rcNV1, rcNV2, rcNV3]}, {row:3, col:1, reps:[rcCW1, rcCW2, rcCW3]}
];

function repStyle(row, r) {
  const base = {pointStyle: markerStyle[row], pointRadius: markerRadius[row], pointBorderColor: '#000', pointBorderWidth: 1, borderWidth: 1.2, tension: 0};
  if (r === 0) return Object.assign(base, {borderColor: '#000', pointBackgroundColor: '#000', borderDash: []});
  if (r === 1) return Object.assign(base, {borderColor: '#777', pointBackgroundColor: fillRep2[row], borderDash: [2, 3]});
  return Object.assign(base, {borderColor: '#222', pointBackgroundColor: fillRep3[row], borderDash: [10, 5], borderWidth: 1.3});
}

const decoPlugin = {
  id: 'deco',
  beforeDatasetsDraw(chart) {
    const {ctx, chartArea: a, scales: {y}} = chart;
    const y0 = y.getPixelForValue(0);
    ctx.save();
    ctx.strokeStyle = '#ff2020'; ctx.lineWidth = 1.6;
    ctx.beginPath(); ctx.moveTo(a.left, y0); ctx.lineTo(a.right, y0); ctx.stroke();
    ctx.restore();
  },
  afterDatasetsDraw(chart, args, opts) {
    const {ctx, chartArea: a, scales: {x, y}} = chart;
    ctx.save();
    ctx.strokeStyle = '#000'; ctx.lineWidth = 1.6; ctx.setLineDash([]);
    for (let m = 0; m <= x.max; m += 2) {
      if (m < x.min) continue;
      const px = Math.round(x.getPixelForValue(m)) + 0.5;
      ctx.beginPath();
      if (m % 6 === 0) {
        ctx.moveTo(px, a.top); ctx.lineTo(px, a.top + 9);
        ctx.moveTo(px, a.bottom); ctx.lineTo(px, a.bottom - 9);
      } else if (opts.minor) {
        ctx.moveTo(px, a.bottom); ctx.lineTo(px, a.bottom + 6);
      }
      ctx.stroke();
    }
    for (const v of [-10, -5, 5]) {
      const py = Math.round(y.getPixelForValue(v)) + 0.5;
      ctx.beginPath();
      ctx.moveTo(a.left, py); ctx.lineTo(a.left + 10, py);
      ctx.moveTo(a.right, py); ctx.lineTo(a.right - 10, py);
      ctx.stroke();
    }
    ctx.lineWidth = 3;
    ctx.strokeRect(a.left, a.top, a.right - a.left, a.bottom - a.top);
    if (opts.legend) {
      const ox = chart.canvas.offsetLeft, oy = chart.canvas.offsetTop;
      const ys = [114, 138, 162];
      ctx.font = '16px "Liberation Sans", Arial, sans-serif';
      ctx.textBaseline = 'middle';
      for (let r = 0; r < 3; r++) {
        const st = repStyle(0, r);
        const yy = ys[r] - oy;
        ctx.strokeStyle = st.borderColor; ctx.lineWidth = st.borderWidth; ctx.setLineDash(st.borderDash);
        ctx.beginPath(); ctx.moveTo(92 - ox, yy); ctx.lineTo(146 - ox, yy); ctx.stroke();
        ctx.setLineDash([]);
        ctx.fillStyle = st.pointBackgroundColor; ctx.strokeStyle = '#000'; ctx.lineWidth = 1;
        Chart.helpers.drawPoint(ctx, {pointStyle: 'triangle', radius: 7, rotation: 0, borderWidth: 1}, 119 - ox, yy);
        ctx.fillStyle = '#333';
        ctx.fillText(repNames[r], 159 - ox, yy + 1);
      }
    }
    ctx.restore();
  }
};

const wrap = document.getElementById('wrap');
panels.forEach((p, i) => {
  const L = colL[p.col], R = colR[p.col], T = rowT[p.row], B = rowB[p.row];
  const ML = p.col === 0 ? 79 : 72, MR = 3, MT = 4;
  const MB = p.row === 3 ? 106 : 14;
  const W = (R - L) + ML + MR, H = (B - T) + MT + MB;
  const cv = document.createElement('canvas');
  cv.width = W; cv.height = H;
  cv.style.left = (L - ML) + 'px'; cv.style.top = (T - MT) + 'px';
  cv.style.width = W + 'px'; cv.style.height = H + 'px';
  wrap.appendChild(cv);
  const rng = p.row === 3 ? xRange.lower[p.col] : xRange.upper[p.col];
  const datasets = p.reps.map((d, r) => Object.assign({label: panelTitles[p.row] + ' ' + repNames[r], data: d, order: 2 - r}, repStyle(p.row, r)));
  new Chart(cv, {
    type: 'line',
    data: {datasets},
    options: {
      responsive: false, animation: false, events: [],
      layout: {padding: {left: 0, right: MR, top: MT, bottom: 0}},
      plugins: {legend: {display: false}, tooltip: {enabled: false},
        deco: {legend: i === 0, minor: p.row === 3}},
      scales: {
        x: {
          type: 'linear', min: rng[0], max: rng[1],
          grid: {display: false, drawTicks: false}, border: {display: false},
          afterBuildTicks: s => { s.ticks = tickMonths.filter(m => m >= s.min && m <= s.max).map(v => ({value: v})); },
          afterFit: s => { s.height = MB; s.paddingLeft = 0; s.paddingRight = 0; },
          ticks: {display: p.row === 3, autoSkip: false, minRotation: 42, maxRotation: 42, padding: 19,
            color: '#222', font: {size: 21, family: '"Liberation Sans", Arial, sans-serif'},
            callback: v => xTickLabels[Math.round(v / 6)]}
        },
        y: {
          type: 'linear', min: -15, max: 8,
          grid: {display: false, drawTicks: false}, border: {display: false},
          afterBuildTicks: s => { s.ticks = yTickValues.map(v => ({value: v})); },
          afterFit: s => { s.width = ML; s.paddingTop = 0; s.paddingBottom = 0; },
          ticks: {display: p.col === 0, padding: 7, color: '#222',
            font: {size: 18, family: '"Liberation Sans", Arial, sans-serif'}}
        }
      }
    },
    plugins: [decoPlugin]
  });
});
</script>
</body></html>
